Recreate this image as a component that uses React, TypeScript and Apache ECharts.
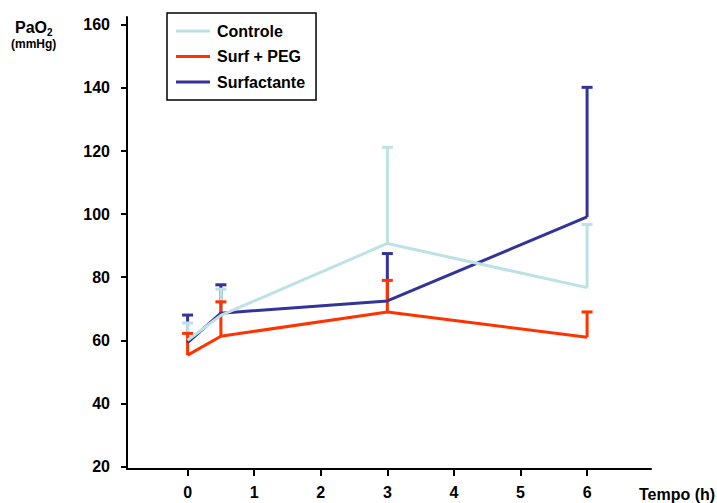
import React, { useEffect, useRef } from "react";
import * as echarts from "echarts";

const times = [0, 0.5, 3, 6];
const xTicks = [0, 1, 2, 3, 4, 5, 6];
const yTicks = [20, 40, 60, 80, 100, 120, 140, 160];

const controleMean = [60, 67.9, 90.7, 76.7];
const controleSD = [5.5, 8.3, 30.5, 20];
const surfPegMean = [55.3, 61.3, 69.0, 61.0];
const surfPegSD = [6.9, 10.9, 10, 8];
const surfactanteMean = [59.3, 68.6, 72.5, 99.1];
const surfactanteSD = [8.7, 9, 15, 41.1];

const FONT = "'Liberation Sans', Arial, sans-serif";

const C_CTRL = "#bde2e5";
const C_PEG = "#ff3300";
const C_SURF = "#333399";

function lineSeries(name: string, mean: number[], color: string) {
  return {
    name,
    type: "line",
    data: times.map((t, i) => [t, mean[i]]),
    symbol: "none",
    lineStyle: { color, width: 3 },
    itemStyle: { color },
    z: 3,
  };
}

function errSeries(name: string, mean: number[], sd: number[], color: string) {
  return {
    name,
    type: "custom",
    data: times.map((t, i) => [t, mean[i], mean[i] + sd[i]]),
    z: 3,
    renderItem: (_p: any, api: any) => {
      const x = api.value(0);
      const p0 = api.coord([x, api.value(1)]);
      const p1 = api.coord([x, api.value(2)]);
      return {
        type: "group",
        children: [
          {
            type: "line",
            shape: { x1: p0[0], y1: p0[1], x2: p1[0], y2: p1[1] },
            style: { stroke: color, lineWidth: 3 },
          },
          {
            type: "line",
            shape: { x1: p1[0] - 5.5, y1: p1[1], x2: p1[0] + 5.5, y2: p1[1] },
            style: { stroke: color, lineWidth: 3 },
          },
        ],
      };
    },
  };
}

export default function App() {
  const ref = useRef<HTMLDivElement>(null);
  useEffect(() => {
    if (!ref.current) return;
    const chart = echarts.init(ref.current, undefined, { renderer: "svg" });
    chart.setOption({
      animation: false,
      backgroundColor: "#ffffff",
      grid: { left: 127, right: 66, top: 17, bottom: 34 },
      xAxis: {
        type: "value",
        min: -0.91,
        max: 6.96,
        splitLine: { show: false },
        axisLine: { onZero: false, lineStyle: { color: "#000", width: 2 } },
        axisTick: {
          show: true,
          length: 7,
          customValues: xTicks,
          lineStyle: { color: "#000", width: 2 },
        },
        axisLabel: {
          customValues: xTicks,
          margin: 15,
          color: "#000",
          fontSize: 16,
          fontWeight: "bold",
          fontFamily: FONT,
        },
      },
      yAxis: {
        type: "value",
        min: 19.2,
        max: 162.5,
        splitLine: { show: false },
        axisLine: { show: true, onZero: false, lineStyle: { color: "#000", width: 2 } },
        axisTick: {
          show: true,
          length: 6,
          customValues: yTicks,
          lineStyle: { color: "#000", width: 2 },
        },
        axisLabel: {
          customValues: yTicks,
          margin: 17,
          color: "#000",
          fontSize: 16,
          fontWeight: "bold",
          fontFamily: FONT,
        },
      },
      legend: {
        orient: "vertical",
        left: 167,
        top: 13,
        data: ["Controle", "Surf + PEG", "Surfactante"],
        icon: "rect",
        itemWidth: 34,
        itemHeight: 3,
        itemGap: 9.5,
        padding: [10, 11, 10, 9],
        borderColor: "#000",
        borderWidth: 1.5,
        borderRadius: 0,
        selectedMode: false,
        textStyle: {
          color: "#000",
          fontSize: 16,
          fontWeight: "bold",
          fontFamily: FONT,
          padding: [0, 0, 0, 2],
        },
      },
      graphic: [
        {
          type: "text",
          left: 15,
          top: 19,
          style: { text: "PaO", fill: "#000", font: `bold 16px ${FONT}` },
        },
        {
          type: "text",
          left: 47,
          top: 27,
          style: { text: "2", fill: "#000", font: `bold 10px ${FONT}` },
        },
        {
          type: "text",
          left: 11,
          top: 38,
          style: { text: "(mmHg)", fill: "#000", font: `bold 12px ${FONT}` },
        },
        {
          type: "text",
          left: 639,
          top: 486,
          style: { text: "Tempo (h)", fill: "#000", font: `bold 16px ${FONT}` },
        },
      ],
      series: [
        lineSeries("Surfactante", surfactanteMean, C_SURF),
        errSeries("Surfactante SD", surfactanteMean, surfactanteSD, C_SURF),
        lineSeries("Controle", controleMean, C_CTRL),
        errSeries("Controle SD", controleMean, controleSD, C_CTRL),
        lineSeries("Surf + PEG", surfPegMean, C_PEG),
        errSeries("Surf + PEG SD", surfPegMean, surfPegSD, C_PEG),
      ],
    });
    return () => chart.dispose();
  }, []);
  return <div ref={ref} style={{ width: 717, height: 503, position: "absolute", left: 0, top: 0 }} />;
}
